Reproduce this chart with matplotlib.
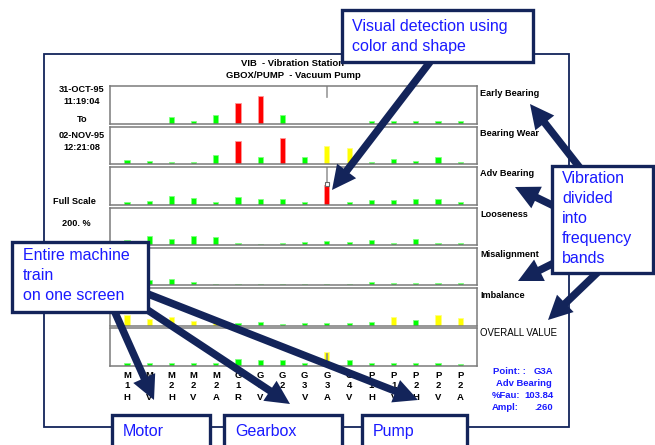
import matplotlib.pyplot as plt
from matplotlib.patches import Rectangle, FancyArrow

plt.rcParams['font.family'] = ['Liberation Sans', 'DejaVu Sans']

# Maalepunkter, 16 kolonner (maskin / nr / retning)
punkt_rad1 = ["M", "M", "M", "M", "M", "G", "G", "G", "G", "G", "G", "P", "P", "P", "P", "P"]
punkt_rad2 = ["1", "1", "2", "2", "2", "1", "1", "2", "3", "3", "4", "1", "1", "2", "2", "2"]
punkt_rad3 = ["H", "V", "H", "V", "A", "R", "V", "A", "V", "A", "V", "H", "V", "H", "V", "A"]

band_navn = ["Early Bearing", "Bearing Wear", "Adv Bearing", "Looseness",
             "Misalignment", "Imbalance", "OVERALL VALUE"]

# Verdier i % av full skala (200 %)
early_bearing = [0, 0, 35, 16, 45, 107, 149, 45, 0, 0, 0, 13, 16, 13, 13, 11]
bearing_wear = [21, 18, 11, 9, 46, 121, 39, 139, 39, 94, 84, 11, 25, 14, 36, 9]
adv_bearing = [16, 21, 44, 37, 16, 41, 27, 27, 12, 103.84, 16, 23, 23, 27, 30, 12]
looseness = [28, 46, 34, 46, 43, 12, 7, 12, 16, 23, 16, 27, 12, 30, 12, 12]
misalignment = [11, 27, 34, 16, 5, 4, 4, 4, 5, 5, 5, 16, 12, 9, 12, 12]
imbalance = [57, 36, 48, 25, 39, 11, 21, 7, 16, 11, 16, 21, 44, 27, 55, 41]
overall = [16, 16, 16, 16, 16, 37, 32, 28, 16, 71, 28, 11, 11, 11, 16, 9]

# Alarmstatus: g = ok, y = varsel, r = alarm
early_status = "gggggrrggggggggg"
wear_status = "gggggrgrgyyggggg"
adv_status = "gggggggggrgggggg"
loose_status = "gggggggggggggggg"
misal_status = "gggggggggggggggg"
imbal_status = "yyyyygggggggygyy"
overall_status = "gggggggggygggggg"

band_verdier = [early_bearing, bearing_wear, adv_bearing, looseness,
                misalignment, imbalance, overall]
band_status = [early_status, wear_status, adv_status, loose_status,
               misal_status, imbal_status, overall_status]

full_skala = 200
valgt_punkt = 9  # G3A

farger = {"g": "#00ff00", "y": "#ffff00", "r": "#ff0000"}
kanter = {"g": "#80ff80", "y": "#ffff80", "r": "#ff9999"}
navy = "#13245a"
blaa = "#1a1aff"

W, H = 655, 445
fig = plt.figure(figsize=(W / 100, H / 100), dpi=100)


def px_axes(x, y, w, h, z=1):
    return fig.add_axes([x / W, 1 - (y + h) / H, w / W, h / H], zorder=z)


# Paneler for hvert frekvensbaand
panel_topp = [86, 126.5, 167, 207.5, 247.5, 288, 328]
panel_h = 37.5
panel_x0, panel_x1 = 110.3, 477.3
kol = list(range(16))

for i in range(7):
    ax = px_axes(panel_x0, panel_topp[i], panel_x1 - panel_x0, panel_h)
    st = band_status[i]
    ax.bar(kol, band_verdier[i], width=0.23,
           color=[farger[s] for s in st], edgecolor=[kanter[s] for s in st],
           linewidth=0.6)
    ax.set_xlim(-0.75, 15.77)
    ax.set_ylim(0, full_skala)
    ax.set_xticks([])
    ax.set_yticks([])
    for sp in ax.spines.values():
        sp.set_color("#7a7a7a")
        sp.set_linewidth(1.1)
    # markør for valgt punkt
    if i == 0:
        ax.plot([valgt_punkt, valgt_punkt], [full_skala, 140], color="#999999", lw=1.2)
    if i == 2:
        v = band_verdier[i][valgt_punkt]
        ax.plot([valgt_punkt, valgt_punkt], [full_skala, v + 8], color="#999999", lw=1.2)
        ax.plot(valgt_punkt, v + 6, marker="s", ms=3.5, mfc="white", mec="#666666", mew=0.8)
    if i == 6:
        ax.plot([valgt_punkt, valgt_punkt], [8, 62], color="#8a8a8a", lw=1.2)

# Overlegg i pikselkoordinater for tekst, bokser og piler
ov = fig.add_axes([0, 0, 1, 1], zorder=5)
ov.set_xlim(0, W)
ov.set_ylim(H, 0)
ov.axis("off")
ov.patch.set_alpha(0)

ov.add_patch(Rectangle((44, 54), 525, 373, fill=False, edgecolor=navy, lw=1.3, zorder=1))

# Tittel
ov.text(293, 64, "VIB  - Vibration Station", ha="center", va="center",
        fontsize=6.8, fontweight="bold")
ov.text(293, 76, "GBOX/PUMP  - Vacuum Pump", ha="center", va="center",
        fontsize=6.8, fontweight="bold")

# Venstre tekster
venstre = [("31-OCT-95", 89), ("11:19:04", 102), ("To", 119),
           ("02-NOV-95", 135), ("12:21:08", 147)]
for txt, y in venstre:
    ov.text(82, y, txt, ha="center", va="center", fontsize=6.6, fontweight="bold")
ov.text(53, 201, "Full Scale", ha="left", va="center", fontsize=6.6, fontweight="bold")
ov.text(62, 224, "200. %", ha="left", va="center", fontsize=6.6, fontweight="bold")

# Baandnavn til hoeyre
for i, navn in enumerate(band_navn):
    if navn == "OVERALL VALUE":
        ov.text(480, panel_topp[i] + 5, navn, ha="left", va="center", fontsize=6.9)
    else:
        ov.text(480, panel_topp[i] + 7, navn, ha="left", va="center",
                fontsize=6.6, fontweight="bold")

# Kolonneetiketter
x_kol = [126.9 + 22.23 * k for k in kol]
for k in kol:
    ov.text(x_kol[k], 375, punkt_rad1[k], ha="center", va="center", fontsize=6.8, fontweight="bold")
    ov.text(x_kol[k], 386, punkt_rad2[k], ha="center", va="center", fontsize=6.8, fontweight="bold")
    ov.text(x_kol[k], 397, punkt_rad3[k], ha="center", va="center", fontsize=6.8, fontweight="bold")

# Info om valgt punkt
info = [("Point: :", "G3A", 371, 493), ("Adv Bearing", "", 384, 496),
        ("%Fau:", "103.84", 396, 492), ("Ampl:", ".260", 408, 492)]
for lab, val, y, x in info:
    ov.text(x, y, lab, ha="left", va="center", fontsize=6.8, fontweight="bold", color=blaa)
    if val:
        ov.text(553, y, val, ha="right", va="center", fontsize=6.8, fontweight="bold", color=blaa)

# Piler
piler = [((430, 62), (332, 190)),
         ((580, 168), (530, 104)),
         ((554, 206), (515, 187)),
         ((554, 263), (518, 281)),
         ((598, 272), (548, 320)),
         ((113, 308), (154, 400)),
         ((140, 305), (290, 404)),
         ((148, 294), (418, 400))]
for (x0, y0), (x1, y1) in piler:
    ov.add_patch(FancyArrow(x0, y0, x1 - x0, y1 - y0, width=7.5, head_width=24,
                            head_length=24, length_includes_head=True,
                            color=navy, lw=0, zorder=3))

# Forklaringsbokser
bokser = [(342, 10, 191, 52, "Visual detection using\ncolor and shape", 352, 19),
          (552, 166, 101, 107, "Vibration\ndivided\ninto\nfrequency\nbands", 562, 171),
          (12, 242, 136, 70, "Entire machine\ntrain\non one screen", 23, 248),
          (112, 415, 98, 40, "Motor", 123, 424),
          (224, 415, 118, 40, "Gearbox", 235, 424),
          (362, 415, 105, 40, "Pump", 373, 424)]
for x, y, w, h, txt, tx, ty in bokser:
    ov.add_patch(Rectangle((x, y), w, h, facecolor="white", edgecolor=navy, lw=2.4, zorder=4))
    ov.text(tx, ty, txt, ha="left", va="top", fontsize=11.5, color=blaa,
            linespacing=1.42, zorder=6)

fig.savefig("out.png", dpi=100)
